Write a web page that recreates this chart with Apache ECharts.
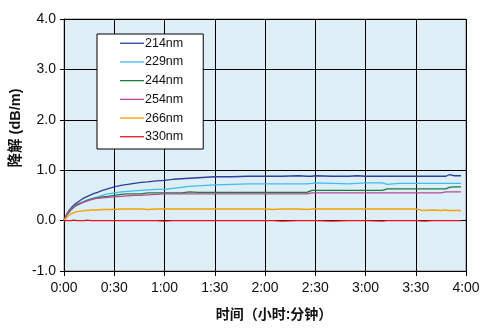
<!DOCTYPE html>
<html><head><meta charset="utf-8">
<script src="https://cdn.jsdelivr.net/npm/echarts@6/dist/echarts.min.js"></script>
<style>html,body{margin:0;padding:0;background:#fff}#c{width:495px;height:332px}</style>
</head><body><div id="c"></div>
<script>
// time in minutes
const minutes = [0,1,2,3,4,5,6,7,8,10,12,14,16,18,20,23,26,30,34,38,42,46,50,55,60,65,70,75,80,85,90,100,110,120,125,130,140,145,148,150,160,170,175,180,190,193,200,210,215,220,225,228,230,233,237];
const seriesNames = ['214nm','229nm','244nm','254nm','266nm','330nm'];
const v214 = [0,0.08,0.15,0.2,0.24,0.28,0.31,0.34,0.36,0.41,0.45,0.48,0.51,0.54,0.56,0.6,0.63,0.67,0.7,0.72,0.74,0.76,0.77,0.79,0.8,0.82,0.83,0.84,0.85,0.86,0.87,0.87,0.88,0.88,0.88,0.88,0.89,0.88,0.88,0.89,0.88,0.88,0.89,0.88,0.88,0.88,0.88,0.88,0.88,0.88,0.88,0.88,0.91,0.89,0.89];
const v229 = [0,0.07,0.13,0.17,0.21,0.24,0.27,0.3,0.32,0.35,0.38,0.41,0.43,0.45,0.47,0.5,0.53,0.55,0.57,0.58,0.59,0.6,0.61,0.62,0.62,0.64,0.66,0.68,0.69,0.7,0.71,0.72,0.73,0.73,0.73,0.73,0.73,0.73,0.74,0.75,0.74,0.73,0.74,0.75,0.75,0.72,0.74,0.74,0.74,0.74,0.74,0.74,0.74,0.74,0.74];
const v244 = [0,0.07,0.13,0.17,0.21,0.24,0.27,0.29,0.31,0.34,0.37,0.4,0.42,0.44,0.45,0.47,0.48,0.5,0.52,0.53,0.53,0.53,0.55,0.55,0.55,0.55,0.55,0.57,0.56,0.56,0.56,0.56,0.56,0.56,0.56,0.56,0.56,0.56,0.6,0.6,0.6,0.6,0.6,0.6,0.6,0.63,0.63,0.63,0.63,0.63,0.63,0.63,0.66,0.67,0.67];
const v254 = [0,0.08,0.14,0.19,0.23,0.26,0.29,0.31,0.33,0.35,0.37,0.39,0.41,0.43,0.44,0.45,0.46,0.47,0.48,0.49,0.5,0.5,0.51,0.52,0.53,0.53,0.53,0.53,0.53,0.53,0.53,0.53,0.53,0.53,0.53,0.53,0.53,0.53,0.55,0.55,0.55,0.55,0.55,0.55,0.55,0.55,0.55,0.55,0.55,0.55,0.55,0.57,0.57,0.57,0.57];
const v266 = [0,0.04,0.08,0.11,0.13,0.15,0.16,0.17,0.18,0.19,0.2,0.2,0.21,0.21,0.21,0.22,0.22,0.22,0.23,0.23,0.23,0.23,0.22,0.23,0.23,0.23,0.23,0.23,0.23,0.23,0.23,0.23,0.23,0.23,0.22,0.23,0.23,0.22,0.23,0.23,0.23,0.23,0.23,0.23,0.23,0.23,0.23,0.23,0.2,0.21,0.2,0.21,0.2,0.2,0.2];
const v330 = [0,0,0,0,0,0,0.01,0,0,0,0,0.01,0,0,0,0,0,0,0,0,0,0,0,0,-0.01,0,0,0,0,0,0,0,0,0,0,-0.01,0,0,0,0,-0.01,0,0,0,-0.01,0,0,0,-0.01,0,0,0,0,0,0];
const colors = ['#2b3f9e','#3cbcf0','#1b7c3c','#b94a97','#f5a100','#e8141c'];
const xTicks = ['0:00','0:30','1:00','1:30','2:00','2:30','3:00','3:30','4:00'];
const xTitle = '时间（小时:分钟）';
const yTitle = '降解 (dB/m)';

const allValues = [v214,v229,v244,v254,v266,v330];
const FONT = '"Liberation Sans", Arial, "Noto Sans CJK SC", sans-serif';
const series = seriesNames.map((n,i)=>({
  name:n, type:'line', symbol:'none', showSymbol:false,
  lineStyle:{width:1.3,color:colors[i]}, itemStyle:{color:colors[i]},
  data: minutes.map((m,j)=>[m, allValues[i][j]]), animation:false
}));

const chart = echarts.init(document.getElementById('c'));
chart.setOption({
  animation:false,
  textStyle:{fontFamily:FONT},
  grid:{left:64,right:29,top:19,bottom:61,show:true,backgroundColor:'#ddeef6',borderColor:'#888',borderWidth:1},
  legend:{
    orient:'vertical', left:97, top:34, data:seriesNames,
    backgroundColor:'#fff', borderColor:'#000', borderWidth:1,
    padding:[3,20,6,23], itemWidth:24, itemHeight:14, itemGap:6.2,
    icon:'path://M0,0H24V1.3H0Z',
    textStyle:{fontSize:12.5,color:'#111',fontFamily:FONT,padding:[0,0,0,-4]}
  },
  graphic:[
    {type:'text', x:274, y:315, style:{text:xTitle, font:'bold 14px '+FONT, fill:'#111', align:'center', verticalAlign:'middle'}},
    {type:'text', x:16, y:128, rotation:Math.PI/2, style:{text:yTitle, font:'bold 14.5px '+FONT, fill:'#111', align:'center', verticalAlign:'middle'}}
  ],
  xAxis:{
    type:'value', min:0, max:240, interval:30,
    axisLine:{show:true,onZero:false,lineStyle:{color:'#000',width:1}},
    axisTick:{show:true,length:5,lineStyle:{color:'#000'}},
    axisLabel:{fontSize:14,color:'#111',margin:10,formatter:v=>xTicks[Math.round(v/30)]},
    splitLine:{show:true,lineStyle:{color:'#000',width:1}}
  },
  yAxis:{
    type:'value', min:-1, max:4, interval:1,
    axisLine:{show:true,lineStyle:{color:'#000',width:1}},
    axisTick:{show:true,length:4,lineStyle:{color:'#000'}},
    axisLabel:{fontSize:14,color:'#111',margin:8,formatter:v=>v.toFixed(1)},
    splitLine:{show:true,lineStyle:{color:'#000',width:1}}
  },
  series:series
});
</script></body></html>
